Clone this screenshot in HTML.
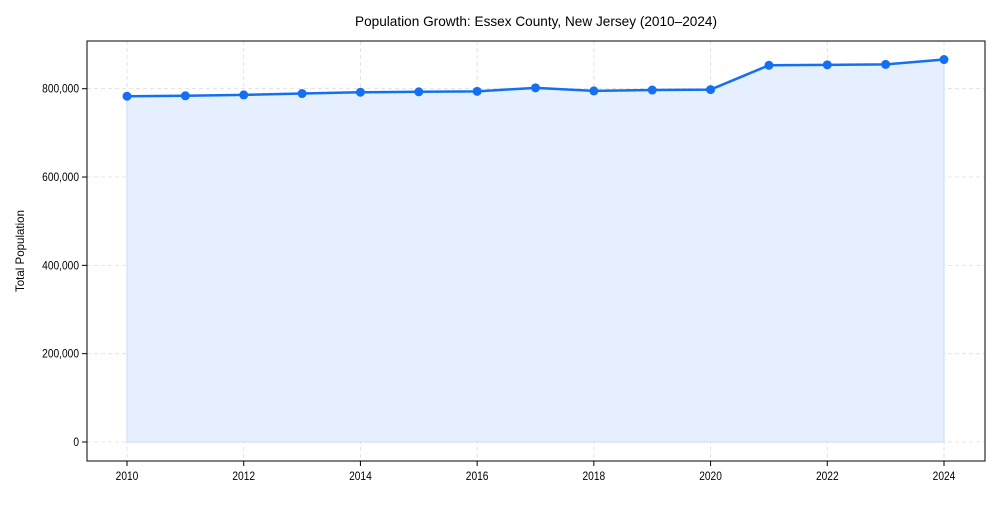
<!DOCTYPE html>
<html><head><meta charset="utf-8"><style>
body{margin:0;background:#fff;font-family:"Liberation Sans",sans-serif;}
svg text{font-family:"Liberation Sans",sans-serif;fill:#000;}
</style></head><body>
<svg id="chart" width="1000" height="500">
<text x="536" y="26" text-anchor="middle" font-size="14" textLength="362" lengthAdjust="spacingAndGlyphs">Population Growth: Essex County, New Jersey (2010–2024)</text>
<text transform="translate(24,251) rotate(-90)" text-anchor="middle" font-size="12" textLength="82" lengthAdjust="spacingAndGlyphs">Total Population</text>
<g id="grid"></g><g id="area"></g><g id="line"></g><g id="ticks"></g>
<rect x="87" y="41" width="898" height="420" fill="none" stroke="#000" stroke-width="1"/>
</svg>
<script>
const years=[2010,2011,2012,2013,2014,2015,2016,2017,2018,2019,2020,2021,2022,2023,2024];
const population=[783000,784000,786000,789000,792000,793000,794000,802000,795000,797000,798000,853000,854000,855000,866000];
const yTicks=[0,200000,400000,600000,800000];
const xTicks=[2010,2012,2014,2016,2018,2020,2022,2024];
const NS="http://www.w3.org/2000/svg";
function X(v){return 127+(v-2010)*(944-127)/14;}
function Y(v){return 442-v*(442-88.7)/800000;}
function mk(p,t,a){const e=document.createElementNS(NS,t);for(const k in a)e.setAttribute(k,a[k]);document.getElementById(p).appendChild(e);return e;}
yTicks.forEach(v=>{
 const g=mk('grid','line',{x1:87,x2:985,y1:Y(v),y2:Y(v),stroke:'#ddd','stroke-dasharray':'4,3','stroke-width':0.8});
 
 
 mk('ticks','line',{x1:82,x2:87,y1:Y(v),y2:Y(v),stroke:'#000'});
 const t=mk('ticks','text',{x:79,y:Y(v)+4,'text-anchor':'end','font-size':12,transform:'translate(79,0) scale(0.85,1) translate(-79,0)'});
 t.textContent=v.toLocaleString('en-US');
 
 
});
xTicks.forEach(v=>{
 const g=mk('grid','line',{x1:X(v),x2:X(v),y1:41,y2:461,stroke:'#ddd','stroke-dasharray':'4,3','stroke-width':0.8});
 
 
 mk('ticks','line',{x1:X(v),x2:X(v),y1:461,y2:466,stroke:'#000'});
 const t=mk('ticks','text',{x:X(v),y:480,'text-anchor':'middle','font-size':12,transform:'translate('+X(v)+',0) scale(0.85,1) translate('+(-X(v))+',0)'});
 t.textContent=v;
 
 
});
let pts=years.map((y,i)=>X(y)+','+Y(population[i]));
const a=mk('area','polygon',{points:X(years[0])+','+Y(0)+' '+pts.join(' ')+' '+X(years[years.length-1])+','+Y(0),fill:'#e6effd',stroke:'#c9dcf7','stroke-width':1});


const l=mk('line','polyline',{points:pts.join(' '),fill:'none',stroke:'#1470f0','stroke-width':2.5});


years.forEach((y,i)=>{
 const c=mk('line','circle',{cx:X(y),cy:Y(population[i]),r:4.5,fill:'#1470f0'});
 
 
});
</script>
</body></html>
